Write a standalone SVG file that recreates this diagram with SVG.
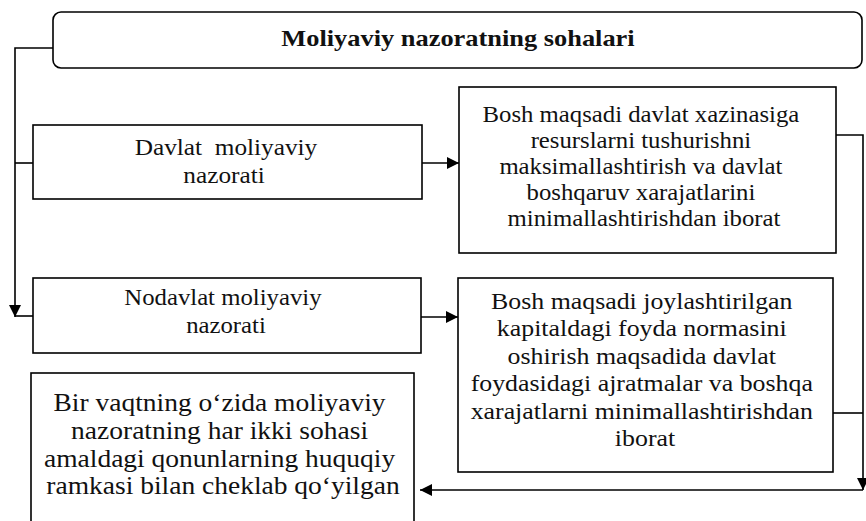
<svg xmlns="http://www.w3.org/2000/svg" width="866" height="521" viewBox="0 0 866 521">
  <defs>
    <marker id="arrow" viewBox="0 0 12 12" refX="12" refY="6" markerWidth="12" markerHeight="12" markerUnits="userSpaceOnUse" orient="auto">
      <path d="M0,0 L12,6 L0,12 Z" fill="#000"/>
    </marker>
    <style>
      .box { fill: #fff; stroke: #000; stroke-width: 1.6; }
      .line { fill: none; stroke: #000; stroke-width: 1.6; }
      .txt { font-family: "Liberation Serif", "Times New Roman", serif; fill: #111; text-anchor: middle; }
      .title { font-weight: bold; font-size: 24px; }
    </style>
  </defs>

  <rect width="866" height="521" fill="#fff"/>

  <!-- connectors -->
  <g id="connectors">
    <path class="line" d="M53,48 H15 V317" marker-end="url(#arrow)"/>
    <path class="line" d="M15,163 H33"/>
    <path class="line" d="M15,316 H33"/>
    <path class="line" d="M422,163 H459" marker-end="url(#arrow)"/>
    <path class="line" d="M421,317 H458" marker-end="url(#arrow)"/>
    <path class="line" d="M836,135 H863 V490" marker-end="url(#arrow)"/>
    <path class="line" d="M833,413 H863"/>
    <path class="line" d="M863,490 H420" marker-end="url(#arrow)"/>
  </g>

  <!-- header -->
  <g id="node-header">
    <rect class="box" x="53" y="12" width="809" height="56" rx="8"/>
    <text class="txt title" transform="translate(458 0) scale(1.1 1)" x="0" y="46">Moliyaviy nazoratning sohalari</text>
  </g>

  <!-- state control -->
  <g id="node-davlat">
    <rect class="box" x="33" y="125" width="389" height="74"/>
    <text class="txt" font-size="23" transform="translate(226 0) scale(1.1 1)" x="0" y="155" xml:space="preserve">Davlat  moliyaviy</text>
    <text class="txt" font-size="23" transform="translate(224 0) scale(1.1 1)" x="0" y="183">nazorati</text>
  </g>

  <!-- non-state control -->
  <g id="node-nodavlat">
    <rect class="box" x="33" y="278" width="388" height="75"/>
    <text class="txt" font-size="22.5" transform="translate(226 0) scale(1.1 1)">
      <tspan x="0" y="305">Nodavlat moliyaviy</tspan>
      <tspan x="0" y="333">nazorati</tspan>
    </text>
  </g>

  <!-- state control goal -->
  <g id="node-davlat-goal">
    <rect class="box" x="459" y="87" width="377" height="166"/>
    <text class="txt" font-size="22.5" transform="translate(644 0) scale(1.1 1)">
      <tspan x="0" y="122.5">Bosh maqsadi davlat xazinasiga</tspan>
      <tspan x="0" y="148.5">resurslarni tushurishni</tspan>
      <tspan x="0" y="174.5">maksimallashtirish va davlat</tspan>
      <tspan x="0" y="200.5">boshqaruv xarajatlarini</tspan>
      <tspan x="0" y="226.5">minimallashtirishdan iborat</tspan>
    </text>
  </g>

  <!-- non-state control goal -->
  <g id="node-nodavlat-goal">
    <rect class="box" x="458" y="278" width="375" height="194"/>
    <text class="txt" font-size="23.5" transform="translate(645 0) scale(1.1 1)">
      <tspan x="0" y="309">Bosh maqsadi joylashtirilgan</tspan>
      <tspan x="0" y="336.5">kapitaldagi foyda normasini</tspan>
      <tspan x="0" y="364">oshirish maqsadida davlat</tspan>
      <tspan x="0" y="391.5">foydasidagi ajratmalar va boshqa</tspan>
      <tspan x="0" y="419">xarajatlarni minimallashtirishdan</tspan>
      <tspan x="0" y="446.5">iborat</tspan>
    </text>
  </g>

  <!-- legal framework -->
  <g id="node-framework">
    <rect class="box" x="31" y="373" width="383" height="170"/>
    <text class="txt" font-size="25" transform="translate(223 0) scale(1.1 1)">
      <tspan x="0" y="411">Bir vaqtning o‘zida moliyaviy</tspan>
      <tspan x="0" y="439">nazoratning har ikki sohasi</tspan>
      <tspan x="0" y="467">amaldagi qonunlarning huquqiy</tspan>
      <tspan x="0" y="494">ramkasi bilan cheklab qo‘yilgan</tspan>
    </text>
  </g>
</svg>
